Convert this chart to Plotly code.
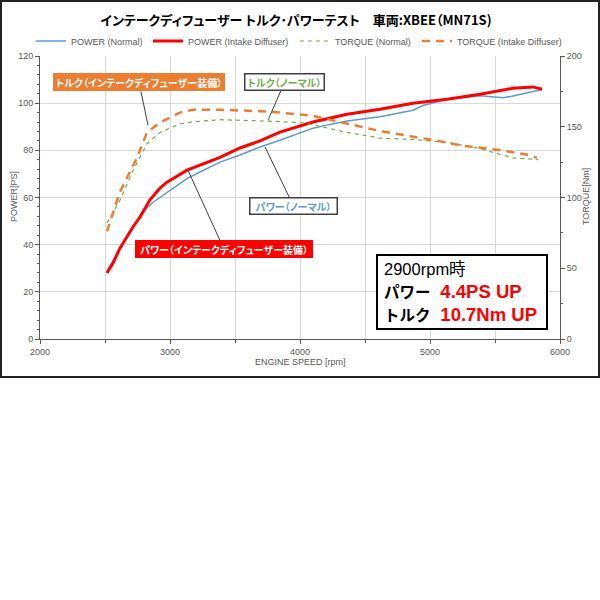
import plotly.graph_objects as go

# ---------------- data ----------------
rpm_pw_normal = [2515, 2560, 2615, 2715, 2792, 2869, 2977, 3131, 3231, 3385, 3538, 3692, 3846,
                 4000, 4100, 4231, 4362, 4615, 4869, 4946, 5131, 5385, 5562, 5638, 5769, 5862]
pw_normal = [29.0, 33.0, 38.5, 47.0, 54.0, 58.0, 62.0, 68.0, 70.8, 75.0, 78.0, 81.4, 84.3,
             87.2, 89.4, 91.0, 92.4, 94.2, 97.0, 99.0, 101.7, 103.1, 102.3, 103.0, 104.8, 105.8]

rpm_pw_diff = [2515, 2560, 2615, 2715, 2769, 2846, 2923, 2977, 3131, 3231, 3385, 3538, 3692, 3846,
               4000, 4100, 4362, 4615, 4869, 5131, 5385, 5515, 5638, 5792, 5862]
pw_diff = [28.0, 32.0, 38.5, 47.5, 51.7, 59.0, 64.0, 66.5, 71.6, 73.7, 77.0, 81.0, 84.0, 87.7,
           90.5, 92.0, 95.3, 97.4, 100.0, 101.7, 103.8, 105.0, 106.3, 106.9, 105.9]

rpm_tq_normal = [2515, 2615, 2715, 2823, 2923, 3077, 3177, 3385, 3746, 4000, 4100, 4362, 4615,
                 4869, 5131, 5385, 5638, 5831]
tq_normal = [82.0, 98.0, 119.0, 138.0, 146.0, 152.0, 153.5, 155.0, 154.0, 153.0, 151.4, 146.0, 142.0,
             141.0, 139.0, 134.5, 128.0, 126.8]

rpm_tq_diff = [2515, 2615, 2746, 2823, 2923, 3077, 3177, 3385, 3692, 3846, 4100, 4362, 4615, 4869,
               5000, 5254, 5515, 5769, 5823]
tq_diff = [76.0, 104.0, 128.0, 146.0, 153.0, 160.0, 162.0, 162.0, 161.0, 160.0, 157.7, 152.0, 147.0,
           143.0, 141.0, 136.6, 133.8, 130.0, 128.0]

series_names = ["POWER (Normal)", "POWER (Intake Diffuser)", "TORQUE (Normal)", "TORQUE (Intake Diffuser)"]
x_ticks = [2000, 3000, 4000, 5000, 6000]

title_text = "インテークディフューザー トルク･パワーテスト　車両:XBEE（MN71S)"
note_rpm = "2900rpm時"
note_power_label, note_power_val = "パワー", "4.4PS UP"
note_torque_label, note_torque_val = "トルク", "10.7Nm UP"

# ---------------- styling ----------------
C_BLUE = "#5b9bd5"
C_RED = "#ff0000"
C_GREEN = "#70ad47"
C_ORANGE = "#ed7d31"
C_GRAY = "#595959"
C_GRID = "#d9d9d9"
LAT = "Liberation Sans, Arial, sans-serif"
JP = "Noto Sans CJK JP, Liberation Sans, sans-serif"
PALT = "font-feature-settings:'palt'"

L, R, T, B = 40, 40, 56, 261
PW, PH = 600 - L - R, 600 - T - B


def px(xp):
    return (xp - L) / PW


def py(yp):
    return (T + PH - yp) / PH


fig = go.Figure()
fig.add_trace(go.Scatter(x=rpm_pw_normal, y=pw_normal, name=series_names[0], mode="lines",
                         line=dict(color=C_BLUE, width=1.5), legend="legend", showlegend=True))
fig.add_trace(go.Scatter(x=rpm_pw_diff, y=pw_diff, name=series_names[1], mode="lines",
                         line=dict(color=C_RED, width=3), legend="legend2", showlegend=True))
fig.add_trace(go.Scatter(x=rpm_tq_normal, y=tq_normal, name=series_names[2], mode="lines", yaxis="y2",
                         line=dict(color=C_GREEN, width=1.2, dash="4px,4px"), legend="legend3",
                         showlegend=True))
fig.add_trace(go.Scatter(x=rpm_tq_diff, y=tq_diff, name=series_names[3], mode="lines", yaxis="y2",
                         line=dict(color=C_ORANGE, width=2.5, dash="8px,6px"), legend="legend4",
                         showlegend=True))

leg_common = dict(orientation="h", yanchor="middle", y=py(41), xanchor="left",
                  font=dict(family=LAT, size=9, color=C_GRAY), bgcolor="rgba(0,0,0,0)",
                  itemwidth=30, borderwidth=0)
leg_x = [31, 148, 295, 417]

axis_font = dict(family=LAT, size=9, color=C_GRAY)

annotations = []
# axis titles
annotations.append(dict(text="POWER[PS]", x=px(14), y=py(197), xref="paper", yref="paper",
                        xanchor="center", yanchor="middle",
                        showarrow=False, textangle=-90, font=axis_font))
annotations.append(dict(text="TORQUE[Nm]", x=px(586), y=py(197), xref="paper", yref="paper",
                        xanchor="center", yanchor="middle",
                        showarrow=False, textangle=-90, font=axis_font))
annotations.append(dict(text="ENGINE SPEED [rpm]", x=px(300), y=py(362), xref="paper", yref="paper",
                        xanchor="center", yanchor="middle",
                        showarrow=False, font=axis_font))

# call-out boxes
def callout(text, x, y, yref, ax, ay, w, h, fg, bg, border, bw):
    return dict(text=f"<b><span style=\"{PALT}\">{text}</span></b>", x=x, y=y, xref="x", yref=yref,
                ax=ax, ay=ay, showarrow=True, arrowhead=0, arrowwidth=1, arrowcolor="#404040",
                standoff=0, bgcolor=bg, bordercolor=border, borderwidth=bw, borderpad=1,
                width=w, height=h, font=dict(family=JP, size=10, color=fg))

annotations.append(callout("トルク（インテークディフューザー装備）", 2831, 151, "y2", -9, -43,
                           170, 16, "white", C_ORANGE, C_ORANGE, 0))
annotations.append(callout("トルク（ノーマル）", 3754, 154.6, "y2", 16.5, -38,
                           76, 13, C_GREEN, "white", "#404040", 1.5))
annotations.append(callout("パワー（ノーマル）", 3731, 81.4, "y", 28.5, 59,
                           84, 13, C_BLUE, "white", "#404040", 1.5))
annotations.append(callout("パワー（インテークディフューザー装備）", 3138, 71.6, "y", 36, 79,
                           176, 16, "white", C_RED, C_RED, 0))

# info box text: one block of three lines
lab_style = "font-family:Noto Sans CJK JP;font-size:15.5px"
val_style = f"font-family:Liberation Sans, Arial;font-size:18.5px;fill:{C_RED}"
nb = "\u00a0\u00a0"
info_text = (
    f"<span style=\"font-size:16.5px\">{note_rpm}</span><br>"
    f"<b><span style=\"{lab_style}\">{note_power_label}</span></b>{nb}"
    f"<b><span style=\"{val_style}\">{note_power_val}</span></b><br>"
    f"<b><span style=\"{lab_style}\">{note_torque_label}</span></b>{nb}"
    f"<b><span style=\"{val_style}\">{note_torque_val}</span></b>"
)
annotations.append(dict(text=info_text, x=px(382), y=py(292), xref="paper", yref="paper",
                        align="left", xanchor="left", yanchor="middle", showarrow=False,
                        font=dict(family="Liberation Sans, Arial, Noto Sans CJK JP, sans-serif",
                                  size=17.7, color="black")))

shapes = [
    # info box frame
    dict(type="rect", xref="paper", yref="paper", x0=px(377), x1=px(547), y0=py(329), y1=py(255),
         line=dict(color="black", width=2), fillcolor="white", layer="above"),
    # outer frame of the chart
    dict(type="rect", xref="paper", yref="paper", x0=px(1), x1=px(599), y0=py(377), y1=py(1),
         line=dict(color="#222222", width=2), fillcolor="rgba(0,0,0,0)"),
]

fig.update_layout(
    width=600, height=600,
    showlegend=True,
    margin=dict(l=L, r=R, t=T, b=B, autoexpand=False),
    paper_bgcolor="white", plot_bgcolor="white",
    title=dict(text=f"<b><span style=\"{PALT}\">{title_text}</span></b>", x=296 / 600, xanchor="center",
               y=1 - 20 / 600, yanchor="middle", yref="container",
               font=dict(family=JP, size=13, color="black")),
    xaxis=dict(range=[2000, 6000], tickvals=x_ticks, showgrid=True, gridcolor=C_GRID, gridwidth=1,
               showline=True, linecolor=C_GRAY, linewidth=1, ticks="outside", ticklen=4, tickcolor=C_GRAY,
               tickfont=axis_font, zeroline=False, automargin=False,
               minor=dict(dtick=500, tick0=2000, showgrid=True, gridcolor=C_GRID, ticks="outside",
                          ticklen=3, tickcolor=C_GRAY)),
    yaxis=dict(range=[0, 120], dtick=20, showgrid=True, gridcolor=C_GRID, gridwidth=1,
               showline=True, linecolor=C_GRAY, linewidth=1, ticks="outside", ticklen=4, tickcolor=C_GRAY,
               tickfont=axis_font, zeroline=False, automargin=False,
               minor=dict(dtick=4, ticks="outside", ticklen=2, tickcolor=C_GRAY, showgrid=False)),
    yaxis2=dict(range=[0, 200], dtick=50, overlaying="y", side="right", showgrid=False,
                showline=True, linecolor=C_GRAY, linewidth=1, ticks="outside", ticklen=4, tickcolor=C_GRAY,
                tickfont=axis_font, zeroline=False, automargin=False,
                minor=dict(dtick=25, ticks="outside", ticklen=2, tickcolor=C_GRAY)),
    legend=dict(leg_common, x=px(leg_x[0])),
    legend2=dict(leg_common, x=px(leg_x[1])),
    legend3=dict(leg_common, x=px(leg_x[2])),
    legend4=dict(leg_common, x=px(leg_x[3])),
    annotations=annotations,
    shapes=shapes,
)

fig.write_html("out.html")
